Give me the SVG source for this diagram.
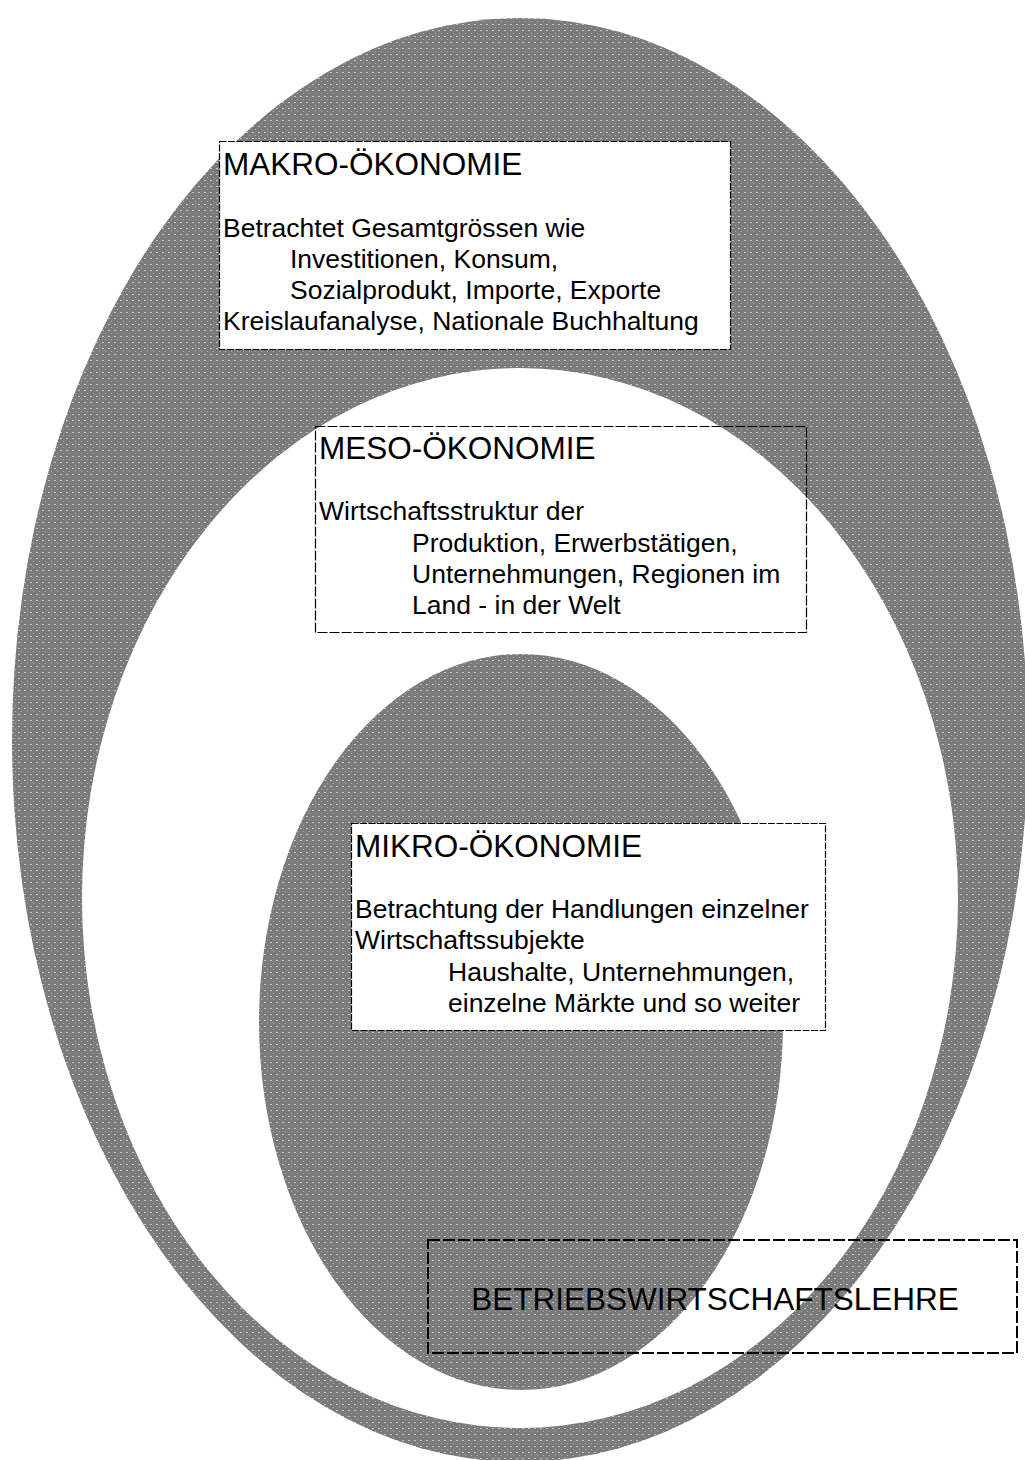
<svg xmlns="http://www.w3.org/2000/svg" width="1025" height="1460" viewBox="0 0 1025 1460">
<style>
.t{font-family:"Liberation Sans",Arial,sans-serif;fill:#000}
.h{font-size:31.5px}
.b{font-size:26.5px}
.box{fill:#fff;stroke:#000;stroke-width:1.2;stroke-dasharray:7 1.5}
.boxn{fill:none;stroke:#000;stroke-width:1.2;stroke-dasharray:10 2}
.boxb{fill:none;stroke:#000;stroke-width:2;stroke-dasharray:12 3}
</style>
<defs>
<pattern id="dither" width="6" height="6" patternUnits="userSpaceOnUse">
<rect width="6" height="6" fill="#7b7b7b"/>
<rect x="0" y="0" width="2" height="1" fill="#c4c4c4"/>
<rect x="3" y="3" width="1" height="1" fill="#b0b0b0"/>
</pattern>
</defs>
<g id="ellipses">
<ellipse id="outer" cx="520" cy="740" rx="508" ry="722" fill="url(#dither)"/>
<ellipse id="middle" cx="520" cy="898" rx="438" ry="530" fill="#fff"/>
<ellipse id="inner" cx="521" cy="1022" rx="262" ry="368" fill="url(#dither)"/>
</g>
<g id="makro">
<rect class="box" x="219.5" y="141.5" width="511" height="208"/>
<text class="t h" x="223" y="175">MAKRO-ÖKONOMIE</text>
<text class="t b" x="223" y="237">Betrachtet Gesamtgrössen wie</text>
<text class="t b" x="290" y="268">Investitionen, Konsum,</text>
<text class="t b" x="290" y="299">Sozialprodukt, Importe, Exporte</text>
<text class="t b" x="223" y="330">Kreislaufanalyse, Nationale Buchhaltung</text>
</g>
<g id="meso">
<rect class="boxn" x="315.5" y="426.5" width="491" height="206"/>
<text class="t h" x="319" y="459">MESO-ÖKONOMIE</text>
<text class="t b" x="319" y="520">Wirtschaftsstruktur der</text>
<text class="t b" x="412" y="552">Produktion, Erwerbstätigen,</text>
<text class="t b" x="412" y="583">Unternehmungen, Regionen im</text>
<text class="t b" x="412" y="614">Land - in der Welt</text>
</g>
<g id="mikro">
<rect class="box" x="351.5" y="823.5" width="474" height="207"/>
<text class="t h" x="355" y="857">MIKRO-ÖKONOMIE</text>
<text class="t b" x="355" y="918">Betrachtung der Handlungen einzelner</text>
<text class="t b" x="355" y="949">Wirtschaftssubjekte</text>
<text class="t b" x="448" y="981">Haushalte, Unternehmungen,</text>
<text class="t b" x="448" y="1012">einzelne Märkte und so weiter</text>
</g>
<g id="bwl">
<rect class="boxb" x="428" y="1240" width="589" height="113"/>
<text class="t h" x="715" y="1310" text-anchor="middle">BETRIEBSWIRTSCHAFTSLEHRE</text>
</g>
<g id="connectors"></g>
</svg>
